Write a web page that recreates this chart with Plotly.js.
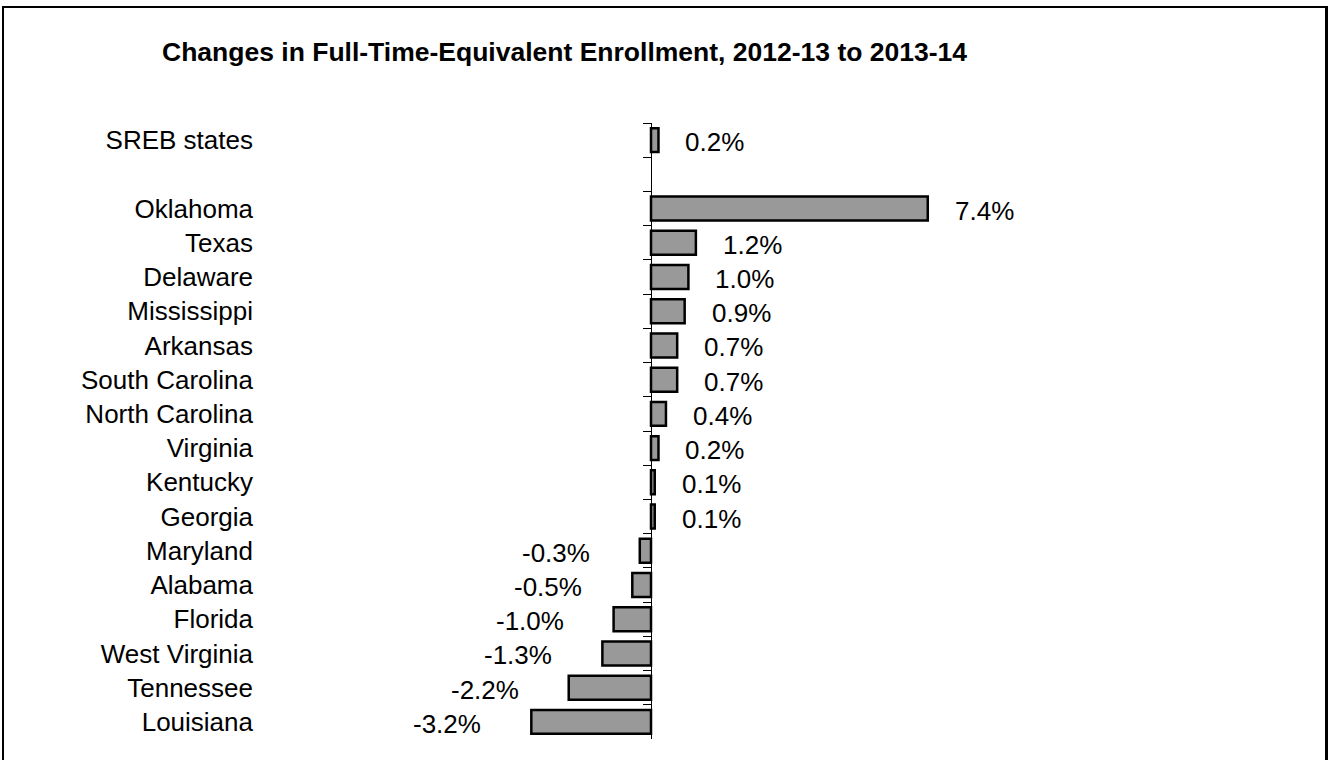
<!DOCTYPE html>
<html>
<head>
<meta charset="utf-8">
<script src="https://cdn.plot.ly/plotly-3.0.1.min.js"></script>
<style>
  html, body { margin: 0; padding: 0; background: #fff; overflow: hidden; }
  #chart { width: 1330px; height: 760px; position: absolute; left: 0; top: 0; }
  #frame { position: absolute; left: 2px; top: 6px; width: 1321px; height: 820px;
           border: 2px solid #000; border-right-width: 3px; pointer-events: none; }
</style>
</head>
<body>
<div id="chart"></div>
<div id="frame"></div>
<script>
// ---- data ----
const chartTitle = "Changes in Full-Time-Equivalent Enrollment, 2012-13 to 2013-14";
const regionLabel = "SREB states";
const regionValue = 0.2;
const states = ["Oklahoma", "Texas", "Delaware", "Mississippi", "Arkansas", "South Carolina",
  "North Carolina", "Virginia", "Kentucky", "Georgia", "Maryland", "Alabama", "Florida",
  "West Virginia", "Tennessee", "Louisiana"];
const stateValues = [7.4, 1.2, 1.0, 0.9, 0.7, 0.7, 0.4, 0.2, 0.1, 0.1, -0.3, -0.5, -1.0, -1.3, -2.2, -3.2];

// ---- build ----
const spacer = " ";
const cats = [regionLabel, spacer].concat(states);
const vals = [regionValue, null].concat(stateValues);

const FONT = "Arial, 'Liberation Sans', sans-serif";
const W = 1330, H = 760;
const mL = 262, mR = 20, mT = 123, mB = 21;
const plotW = W - mL - mR;
const pxPerUnit = 37.4;
const zeroPx = 651;
const xMin = -(zeroPx - mL) / pxPerUnit;
const xMax = xMin + plotW / pxPerUnit;
const zeroPos = (0 - xMin) / (xMax - xMin);

const barTrace = {
  type: "bar", orientation: "h",
  x: vals, y: cats,
  marker: { color: "#999999", line: { color: "#000", width: 2.5 } },
  hoverinfo: "skip", showlegend: false
};
const axisTrace = {
  type: "bar", orientation: "h",
  x: vals, y: cats, yaxis: "y2",
  marker: { color: "rgba(0,0,0,0)", line: { width: 0 } },
  hoverinfo: "skip", showlegend: false
};

const annotations = [];
cats.forEach((c, i) => {
  const v = vals[i];
  if (v === null) return;
  annotations.push({
    x: v, y: c, xref: "x", yref: "y",
    text: v.toFixed(1) + "%",
    showarrow: false,
    xanchor: v >= 0 ? "left" : "right",
    xshift: v >= 0 ? 25 : -48,
    yshift: -2,
    font: { family: FONT, size: 26, color: "#000" }
  });
});

const range = [cats.length - 0.5, -0.5];

const layout = {
  width: W, height: H,
  margin: { l: mL, r: mR, t: mT, b: mB, pad: 0 },
  paper_bgcolor: "#fff", plot_bgcolor: "#fff",
  bargap: 0.3,
  barmode: "overlay",
  font: { family: FONT, color: "#000" },
  title: {
    text: "<b>" + chartTitle + "</b>",
    font: { family: FONT, size: 26.5, color: "#000" },
    xref: "container", x: 162 / W, xanchor: "left",
    yref: "container", y: 1 - 52 / H, yanchor: "middle"
  },
  xaxis: {
    range: [xMin, xMax], showgrid: false, zeroline: false, showline: false,
    showticklabels: false, ticks: "", fixedrange: true
  },
  yaxis: {
    type: "category", categoryorder: "array", categoryarray: cats,
    range: range, showgrid: false, zeroline: false, showline: false, ticks: "",
    ticklabelstandoff: 8,
    tickfont: { family: FONT, size: 26, color: "#000" },
    automargin: false
  },
  yaxis2: {
    type: "category", categoryorder: "array", categoryarray: cats,
    range: range, overlaying: "y", anchor: "free", position: zeroPos, side: "left",
    showgrid: false, zeroline: false, showline: true, linecolor: "#000", linewidth: 1,
    ticks: "outside", tickson: "boundaries", ticklen: 8, tickwidth: 1, tickcolor: "#000",
    showticklabels: false
  },
  annotations: annotations
};

Plotly.newPlot("chart", [axisTrace, barTrace], layout, { displayModeBar: false, staticPlot: true });
</script>
</body>
</html>
